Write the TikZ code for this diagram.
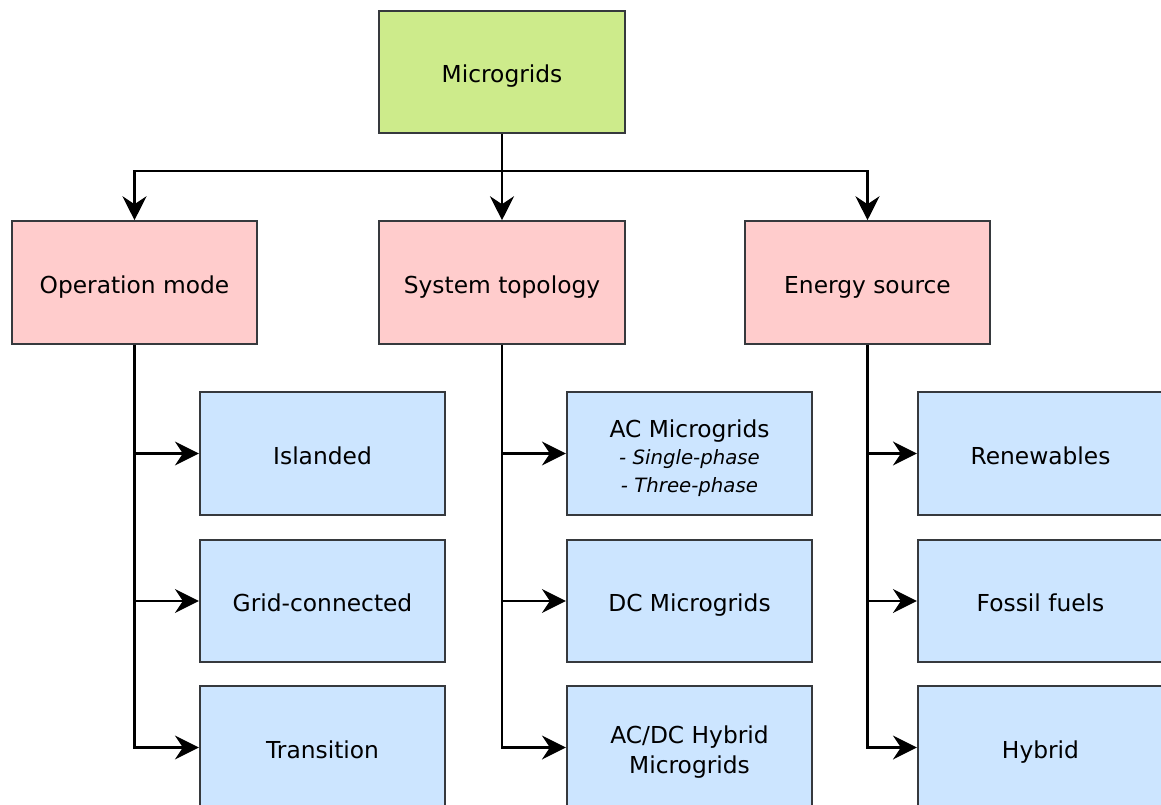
\documentclass[tikz,border=0pt]{standalone}
\usepackage{fontspec}
\setmainfont{DejaVu Sans}
\usetikzlibrary{arrows.meta}
\definecolor{rootfill}{HTML}{CDEB8B}
\definecolor{catfill}{HTML}{FFCCCC}
\definecolor{leaffill}{HTML}{CCE5FF}
\definecolor{edge}{HTML}{36393D}
\newcommand{\variantline}[1]{{\fontsize{14.8}{20}\selectfont\itshape #1}}
\tikzset{
  box/.style={draw=edge, line width=1.4pt, minimum width=184pt, minimum height=92pt,
    inner sep=0pt, align=center, font=\fontsize{17.5}{21.5}\selectfont},
  oneline/.style={text height=17pt, text depth=1pt},
  rootbox/.style={box, oneline, fill=rootfill},
  catbox/.style={box, oneline, fill=catfill},
  leafbox/.style={box, oneline, fill=leaffill},
  multibox/.style={box, fill=leaffill},
  link/.style={draw=black, line width=1.6pt, -{Stealth[length=18pt, width=18pt, inset=6pt]}}
}
\begin{document}
\begin{tikzpicture}[x=0.75pt, y=-0.75pt]
  \useasboundingbox (0,0) rectangle (1161,805);
  \clip (0,0) rectangle (1161,805);
  \fill[white] (0,0) rectangle (1161,805);

  % root
  \node[rootbox] (root) at (502,72) {Microgrids};

  % categories
  \node[catbox] (op)  at (134.5,282.5) {Operation mode};
  \node[catbox] (top) at (502,282.5)   {System topology};
  \node[catbox] (en)  at (867.5,282.5) {Energy source};

  % leaves: operation mode
  \node[leafbox] (isl)  at (322.5,453.5) {Islanded};
  \node[leafbox] (grid) at (322.5,601)   {Grid-connected};
  \node[leafbox] (tr)   at (322.5,747.5) {Transition};

  % leaves: system topology
  \node[multibox] (ac)  at (689.5,453.5) {\rule{0pt}{20.5pt}AC Microgrids\\[-1.5pt]\variantline{- Single-phase}\\[0pt]\variantline{- Three-phase}};
  \node[leafbox] (dc)   at (689.5,601)   {DC Microgrids};
  \node[multibox] (hyb) at (689.5,747.5) {\rule{0pt}{20pt}AC/DC Hybrid\\[0.5pt]Microgrids};

  % leaves: energy source
  \node[leafbox] (ren)  at (1040.5,453.5) {Renewables};
  \node[leafbox] (fos)  at (1040.5,601)   {Fossil fuels};
  \node[leafbox] (mix)  at (1040.5,747.5) {Hybrid};

  % root to categories
  \coordinate (bus) at (502,171);
  \draw[link] (root.south) -- (top.north);
  \draw[link] (root.south) |- (bus) -| (op.north);
  \draw[link] (root.south) |- (bus) -| (en.north);

  % category trunks to leaves
  \draw[link] (op.south)  |- (isl.west);
  \draw[link] (op.south)  |- (grid.west);
  \draw[link] (op.south)  |- (tr.west);
  \draw[link] (top.south) |- (ac.west);
  \draw[link] (top.south) |- (dc.west);
  \draw[link] (top.south) |- (hyb.west);
  \draw[link] (en.south)  |- (ren.west);
  \draw[link] (en.south)  |- (fos.west);
  \draw[link] (en.south)  |- (mix.west);
\end{tikzpicture}
\end{document}
